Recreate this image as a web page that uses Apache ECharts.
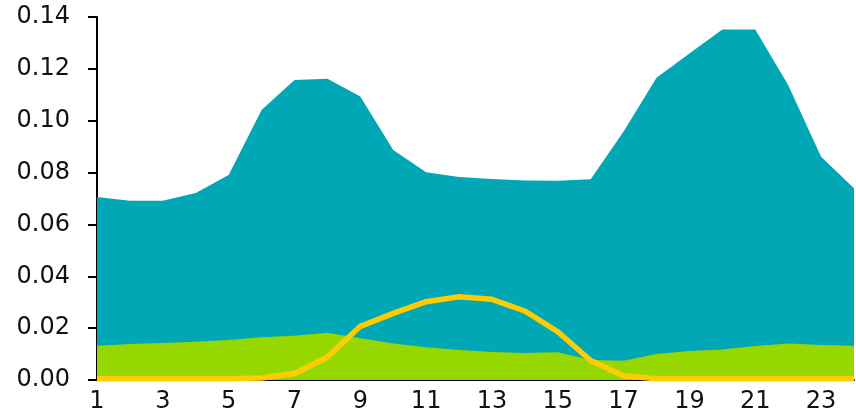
<!DOCTYPE html>
<html>
<head>
<meta charset="utf-8">
<script src="https://cdn.jsdelivr.net/npm/echarts@6/dist/echarts.min.js"></script>
<style>
html,body{margin:0;padding:0;background:#fff;}
#chart{width:856px;height:418px;}
</style>
</head>
<body>
<div id="chart"></div>
<script>
var hours = ['1','2','3','4','5','6','7','8','9','10','11','12','13','14','15','16','17','18','19','20','21','22','23','24'];
var totalValues = [0.0706,0.0691,0.0691,0.0721,0.0791,0.1041,0.1157,0.1162,0.1093,0.0887,0.0801,0.0783,0.0775,0.0769,0.0768,0.0774,0.0958,0.1166,0.1259,0.1352,0.1352,0.1138,0.0861,0.0740];
var baseValues = [0.0132,0.0139,0.0143,0.0148,0.0154,0.0165,0.0171,0.0182,0.0161,0.0141,0.0126,0.0116,0.0108,0.0104,0.0107,0.0077,0.0074,0.0100,0.0112,0.0118,0.0131,0.0141,0.0135,0.0132];
var solarValues = [0.0005,0.0005,0.0005,0.0005,0.0005,0.0008,0.0025,0.0089,0.0207,0.0257,0.0302,0.0321,0.0311,0.0266,0.0186,0.0075,0.0016,0.0005,0.0005,0.0005,0.0005,0.0005,0.0005,0.0005];
var yTicks = {min: 0, max: 0.14, interval: 0.02};

var chart = echarts.init(document.getElementById('chart'), null, {renderer: 'canvas'});
var fontFam = '"DejaVu Sans", sans-serif';
chart.setOption({
  animation: false,
  backgroundColor: '#ffffff',
  grid: {left: 97, right: 2, top: 17, bottom: 38, containLabel: false},
  xAxis: {
    type: 'category',
    data: hours,
    boundaryGap: false,
    axisLine: {show: true, lineStyle: {color: '#000', width: 2}},
    axisTick: {show: false},
    axisLabel: {interval: 1, color: '#111', fontSize: 24, fontFamily: fontFam, margin: 10},
    splitLine: {show: false}
  },
  yAxis: {
    type: 'value',
    min: yTicks.min, max: yTicks.max, interval: yTicks.interval,
    axisLine: {show: true, lineStyle: {color: '#000', width: 2}},
    axisTick: {show: true, length: 9, lineStyle: {color: '#000', width: 2}},
    axisLabel: {color: '#111', fontSize: 24, fontFamily: fontFam, margin: 27,
      formatter: function (v) { return v.toFixed(2); }},
    splitLine: {show: false}
  },
  series: [
    {
      type: 'line', data: totalValues, symbol: 'none', z: 1,
      lineStyle: {width: 0, color: '#00A8B5'},
      areaStyle: {color: '#00A8B5', opacity: 1}
    },
    {
      type: 'line', data: baseValues, symbol: 'none', z: 2,
      lineStyle: {width: 0, color: '#97D700'},
      areaStyle: {color: '#97D700', opacity: 1}
    },
    {
      type: 'line', data: solarValues, symbol: 'none', z: 3,
      lineStyle: {width: 5.5, color: '#FFCC00'}
    }
  ]
});
</script>
</body>
</html>
